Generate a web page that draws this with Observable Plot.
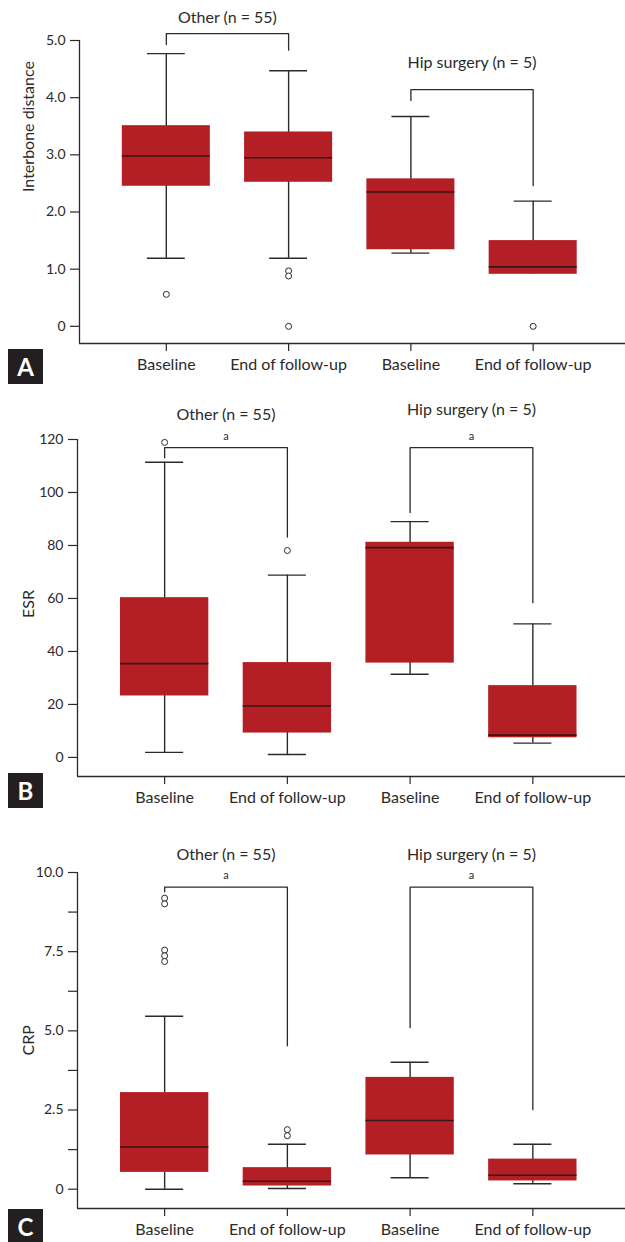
<!DOCTYPE html>
<html><head><meta charset="utf-8">
<script src="https://cdn.jsdelivr.net/npm/d3@7"></script>
<script src="https://cdn.jsdelivr.net/npm/@observablehq/plot@0.6"></script>
<style>
body{margin:0;background:#fff;font-family:Lato,sans-serif}
#root{position:relative;width:625px;height:1242px;overflow:hidden}
.panel{position:absolute;left:0;width:625px}
.panel svg{display:block}
.badge{position:absolute;left:8px;width:35px;height:35px;background:#231f20;color:#fff;font:bold 24px Lato,sans-serif;display:flex;align-items:center;justify-content:center}
</style></head><body><div id="root"></div>
<script>
// ---------- data ----------
const categories = ["Baseline", "End of follow-up", "Baseline", "End of follow-up"];
const groupNames = ["Other (n = 55)", "Hip surgery (n = 5)"];

// Panel A – Interbone distance
const aLow = [1.19, 1.19, 1.28, 0.91];
const aQ1  = [2.45, 2.52, 1.34, 0.91];
const aMed = [2.98, 2.95, 2.35, 1.04];
const aQ3  = [3.51, 3.40, 2.58, 1.50];
const aHigh= [4.77, 4.47, 3.67, 2.19];
const aOutCat = [0, 1, 1, 1, 3];
const aOutVal = [0.56, 0.97, 0.88, 0, 0];
const aBracketTop = [5.12, 4.14];
const aBracketLegL = [4.93, 3.95];
const aBracketLegR = [4.83, 2.46];
const aTitleY = [5.40, 4.60];
const aSig = ["", ""];

// Panel B – ESR
const bLow = [1.9, 1.1, 31.4, 5.4];
const bQ1  = [23.2, 9.2, 35.6, 7.4];
const bMed = [35.4, 19.4, 79.2, 8.4];
const bQ3  = [60.3, 35.8, 81.2, 27.1];
const bHigh= [111.4, 68.8, 89.0, 50.4];
const bOutCat = [0, 1];
const bOutVal = [118.9, 78.1];
const bBracketTop = [116.9, 116.9];
const bBracketLegL = [113.1, 92.4];
const bBracketLegR = [83.2, 58.4];
const bTitleY = [129.2, 131.1];
const bSig = ["a", "a"];
const bSigY = [121.3, 121.3];

// Panel C – CRP
const cLow = [0, 0.02, 0.36, 0.17];
const cQ1  = [0.53, 0.10, 1.08, 0.26];
const cMed = [1.33, 0.25, 2.17, 0.44];
const cQ3  = [3.05, 0.68, 3.53, 0.95];
const cHigh= [5.46, 1.42, 4.01, 1.42];
const cOutCat = [0, 0, 0, 0, 0, 1, 1];
const cOutVal = [9.19, 9.01, 7.55, 7.37, 7.19, 1.88, 1.69];
const cBracketTop = [9.54, 9.54];
const cBracketLegL = [9.39, 5.10];
const cBracketLegR = [4.53, 2.51];
const cTitleY = [10.56, 10.56];
const cSig = ["a", "a"];
const cSigY = [9.92, 9.92];

const aTicks = [0, 1, 2, 3, 4, 5];
const bTicks = [0, 20, 40, 60, 80, 100, 120];
const cTicks = [0, 1.25, 2.5, 3.75, 5, 6.25, 7.5, 8.75, 10];

// ---------- styles ----------
const FILL = "#b41f26", INK = "#2a2a2a", MED = "#3a1518";
const BOX_HALF = 0.36, CAP_HALF = 0.155;
const XDOM = [-0.71, 3.755];

function panel(cfg) {
  const idx = [0, 1, 2, 3];
  const boxes = idx.map(i => ({i, lo: cfg.low[i], q1: cfg.q1[i], med: cfg.med[i], q3: cfg.q3[i], hi: cfg.high[i]}));
  const lowCaps = boxes.filter(d => d.lo < d.q1);
  const outs = cfg.outCat.map((c, k) => ({i: c, v: cfg.outVal[k]}));
  const brackets = [];
  [[0, 1], [2, 3]].forEach(([a, b], g) => {
    brackets.push({g, x: a, y: cfg.legL[g]}, {g, x: a, y: cfg.top[g]}, {g, x: b, y: cfg.top[g]}, {g, x: b, y: cfg.legR[g]});
  });
  const titles = groupNames.map((t, g) => ({t, x: g * 2 + 0.5, y: cfg.titleY[g]}));
  const sigs = cfg.sig.map((s, g) => ({s, x: g * 2 + 0.5, y: cfg.sigY ? cfg.sigY[g] : 0})).filter(d => d.s);
  return Plot.plot({
    width: 625, height: cfg.height,
    marginLeft: cfg.ml, marginRight: 0, marginTop: cfg.mt, marginBottom: cfg.mb,
    style: {fontFamily: "Lato, sans-serif", color: INK, background: "#fff", overflow: "visible"},
    x: {domain: XDOM},
    y: {domain: cfg.ydom},
    marks: [
      Plot.ruleX([XDOM[0]], {stroke: INK, strokeWidth: 1.3}),
      Plot.ruleY([cfg.ydom[0]], {stroke: INK, strokeWidth: 1.3}),
      Plot.axisY({ticks: cfg.ticks, tickFormat: cfg.fmt, tickSize: 9, tickPadding: 5, fontSize: 14, label: null, stroke: INK, strokeWidth: 1.2}),
      Plot.axisX({ticks: idx, tickFormat: i => categories[i], tickSize: 8, tickPadding: 7, fontSize: 16, label: null, stroke: INK, strokeWidth: 1.2}),
      Plot.text([cfg.ylabel], {frameAnchor: "left", dx: cfg.ldx, dy: cfg.ldy || 0, rotate: -90, fontSize: 16, fill: INK}),
      Plot.ruleX(boxes, {x: "i", y1: "lo", y2: "hi", stroke: INK, strokeWidth: 1.4}),
      Plot.ruleY(boxes, {y: "hi", x1: d => d.i - CAP_HALF, x2: d => d.i + CAP_HALF, stroke: INK, strokeWidth: 1.4}),
      Plot.ruleY(lowCaps, {y: "lo", x1: d => d.i - CAP_HALF, x2: d => d.i + CAP_HALF, stroke: INK, strokeWidth: 1.4}),
      Plot.rectY(boxes, {x1: d => d.i - BOX_HALF, x2: d => d.i + BOX_HALF, y1: "q1", y2: "q3", fill: FILL}),
      Plot.ruleY(boxes, {y: "med", x1: d => d.i - BOX_HALF, x2: d => d.i + BOX_HALF, stroke: MED, strokeWidth: 1.6}),
      Plot.dot(outs, {x: "i", y: "v", r: 3, stroke: INK, strokeWidth: 1, fill: "#fff"}),
      Plot.line(brackets, {x: "x", y: "y", z: "g", stroke: INK, strokeWidth: 1.3, curve: "linear"}),
      Plot.text(titles, {x: "x", y: "y", text: "t", fontSize: 16, fill: INK}),
      Plot.text(sigs, {x: "x", y: "y", text: "s", fontSize: 11, fill: INK})
    ]
  });
}

const root = document.getElementById("root");
function addPanel(top, cfg, letter, badgeTop) {
  const div = document.createElement("div");
  div.className = "panel"; div.style.top = top + "px";
  div.appendChild(panel(cfg));
  root.appendChild(div);
  const b = document.createElement("div");
  b.className = "badge"; b.style.top = badgeTop + "px"; b.textContent = letter;
  root.appendChild(b);
}

const fmtA = d => d === 0 ? "0" : d.toFixed(1);
const fmtB = d => String(d);
const fmtC = d => (d % 2.5 === 0) ? (d === 0 ? "0" : d.toFixed(1)) : "";

addPanel(0, {height: 393, ml: 79, mt: 40, mb: 50, ydom: [-0.3, 5.0], ticks: aTicks, fmt: fmtA,
  low: aLow, q1: aQ1, med: aMed, q3: aQ3, high: aHigh, outCat: aOutCat, outVal: aOutVal,
  top: aBracketTop, legL: aBracketLegL, legR: aBracketLegR, titleY: aTitleY, sig: aSig,
  ylabel: "Interbone distance", ldx: -51}, "A", 349);

addPanel(393, {height: 420, ml: 77, mt: 46, mb: 37, ydom: [-7.2, 120], ticks: bTicks, fmt: fmtB,
  low: bLow, q1: bQ1, med: bMed, q3: bQ3, high: bHigh, outCat: bOutCat, outVal: bOutVal,
  top: bBracketTop, legL: bBracketLegL, legR: bBracketLegR, titleY: bTitleY, sig: bSig, sigY: bSigY,
  ylabel: "ESR", ldx: -49, ldy: 10}, "B", 773);

addPanel(813, {height: 429, ml: 77, mt: 59, mb: 34, ydom: [-0.61, 10], ticks: cTicks, fmt: fmtC,
  low: cLow, q1: cQ1, med: cMed, q3: cQ3, high: cHigh, outCat: cOutCat, outVal: cOutVal,
  top: cBracketTop, legL: cBracketLegL, legR: cBracketLegR, titleY: cTitleY, sig: cSig, sigY: cSigY,
  ylabel: "CRP", ldx: -49, ldy: 15}, "C", 1209);
</script>
</body></html>
